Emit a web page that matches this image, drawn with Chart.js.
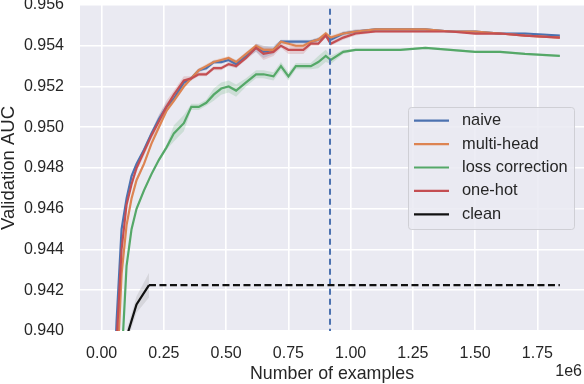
<!DOCTYPE html>
<html>
<head>
<meta charset="utf-8">
<script src="https://cdn.jsdelivr.net/npm/chart.js@4/dist/chart.umd.min.js"></script>
<style>
  html, body { margin: 0; padding: 0; background: #ffffff; }
  #wrap { width: 584px; height: 384px; }
</style>
</head>
<body>
<div id="wrap"><canvas id="c" width="584" height="384"></canvas></div>
<script>
// x positions in units of 1e6 examples
const xs = [0.0, 0.04, 0.06, 0.08, 0.10, 0.12, 0.14, 0.17, 0.20, 0.23, 0.26, 0.29, 0.33, 0.36, 0.39, 0.42, 0.45, 0.48, 0.51, 0.54, 0.58, 0.62, 0.65, 0.69, 0.72, 0.75, 0.78, 0.81, 0.84, 0.87, 0.90, 0.92, 0.97, 1.02, 1.1, 1.2, 1.3, 1.4, 1.5, 1.6, 1.7, 1.84];

const naive = [0.915, 0.9345, 0.9405, 0.9450, 0.9465, 0.9476, 0.9482, 0.9489, 0.9497, 0.9504, 0.9510, 0.9514, 0.9522, 0.9524, 0.9528, 0.9529, 0.9532, 0.9532, 0.9533, 0.9531, 0.9535, 0.9539, 0.9537, 0.9538, 0.9542, 0.9542, 0.9542, 0.9542, 0.9542, 0.9543, 0.9545, 0.9543, 0.9546, 0.9547, 0.9548, 0.9548, 0.9548, 0.9547, 0.9547, 0.9546, 0.9546, 0.9545];
const multiHead = [0.905, 0.930, 0.9375, 0.9428, 0.9452, 0.9465, 0.9474, 0.9482, 0.9492, 0.9500, 0.9508, 0.9513, 0.9520, 0.9524, 0.9528, 0.9530, 0.9532, 0.9533, 0.9534, 0.9532, 0.9536, 0.9540, 0.9538, 0.9538, 0.9542, 0.9541, 0.9540, 0.9540, 0.9542, 0.9543, 0.9546, 0.9544, 0.9546, 0.9547, 0.9548, 0.9548, 0.9548, 0.9547, 0.9547, 0.9546, 0.9545, 0.9544];
const lossCorrection = [0.900, 0.926, 0.9335, 0.9385, 0.9432, 0.9450, 0.9460, 0.9469, 0.9477, 0.9484, 0.9490, 0.9497, 0.9502, 0.9510, 0.9510, 0.9512, 0.9516, 0.9519, 0.9520, 0.9518, 0.9522, 0.9526, 0.9526, 0.9525, 0.9530, 0.9525, 0.9530, 0.9530, 0.9530, 0.9532, 0.9535, 0.9533, 0.9537, 0.9538, 0.9538, 0.9538, 0.9539, 0.9538, 0.9537, 0.9537, 0.9536, 0.9535];
const oneHot = [0.912, 0.933, 0.9395, 0.9440, 0.9462, 0.9472, 0.9480, 0.9488, 0.9496, 0.9503, 0.9510, 0.9516, 0.9523, 0.9524, 0.9526, 0.9526, 0.9529, 0.9529, 0.9531, 0.9530, 0.9534, 0.9539, 0.9536, 0.9537, 0.9540, 0.9538, 0.9538, 0.9538, 0.9541, 0.9541, 0.9545, 0.9541, 0.9544, 0.9546, 0.9547, 0.9547, 0.9547, 0.9547, 0.9546, 0.9546, 0.9545, 0.9544];

// spread (half-width of shaded band) per point
const naiveSd = [0.0002, 0.0002, 0.0002, 0.0001, 0.0001, 0.0001, 0.0001, 0.0001, 0.0001, 0.0002, 0.0002, 0.0001, 0.0001, 0.0001, 0.0001, 0.0001, 0.0001, 0.0001, 0.0001, 0.0002, 0.0001, 0.0002, 0.0003, 0.0002, 0.0001, 0.0001, 0.0001, 0.0001, 0.0001, 0.0001, 0.0001, 0.0001, 0.0001, 0.0001, 0.00005, 0.00005, 0.00005, 0.00005, 0.00005, 0.00005, 0.00005, 0.00005];
const multiHeadSd = [0.0002, 0.0002, 0.0002, 0.0001, 0.0001, 0.0001, 0.0001, 0.0001, 0.0001, 0.0001, 0.0001, 0.0001, 0.0001, 0.0001, 0.0001, 0.0001, 0.0001, 0.0001, 0.0001, 0.0001, 0.0001, 0.0001, 0.0002, 0.0001, 0.0001, 0.0001, 0.0001, 0.0001, 0.0001, 0.0001, 0.0001, 0.0001, 0.0001, 0.0001, 0.00005, 0.00005, 0.00005, 0.00005, 0.00005, 0.00005, 0.00005, 0.00005];
const lossCorrectionSd = [0.0002, 0.0002, 0.0002, 0.0001, 0.0001, 0.0001, 0.0001, 0.0001, 0.0001, 0.0001, 0.0001, 0.0004, 0.0004, 0.00015, 0.00015, 0.00015, 0.0003, 0.0003, 0.0003, 0.0003, 0.0002, 0.0002, 0.0002, 0.0002, 0.0002, 0.0002, 0.00015, 0.00015, 0.00015, 0.0003, 0.0003, 0.0002, 0.0001, 0.00005, 0.00005, 0.00005, 0.00005, 0.00005, 0.00005, 0.00005, 0.00005, 0.00005];
const oneHotSd = [0.0002, 0.0002, 0.0002, 0.0001, 0.0001, 0.0001, 0.0002, 0.0002, 0.0002, 0.0003, 0.0003, 0.0002, 0.0002, 0.0001, 0.0001, 0.0001, 0.0001, 0.0001, 0.0001, 0.0001, 0.0001, 0.0002, 0.0003, 0.0002, 0.0001, 0.0002, 0.0002, 0.0002, 0.0001, 0.0001, 0.0001, 0.0001, 0.0001, 0.0001, 0.00005, 0.00005, 0.00005, 0.00005, 0.00005, 0.00005, 0.00005, 0.00005];

const cleanX = [0.08, 0.14, 0.19];
const clean = [0.9389, 0.9413, 0.94225];
const cleanSd = [0.0003, 0.0004, 0.0006];
const cleanLevelX = [0.19, 1.84];
const cleanLevel = [0.94225, 0.94225];

const markerX = [0.917];

const labels = ['naive', 'multi-head', 'loss correction', 'one-hot', 'clean'];
const colors = ['#4C72B0', '#DD8452', '#55A868', '#C44E52', '#111111'];

const xMin = -0.087, xMax = 1.937;
const yMin = 0.940, yMax = 0.956;
const xTickStep = 0.25, yTickStep = 0.002;

function pts(xv, yv) { return xv.map((x, i) => ({ x: x, y: yv[i] })); }
function hexA(hex, a) {
  const n = parseInt(hex.slice(1), 16);
  return `rgba(${(n >> 16) & 255},${(n >> 8) & 255},${n & 255},${a})`;
}

const series = [naive, multiHead, lossCorrection, oneHot];
const sds = [naiveSd, multiHeadSd, lossCorrectionSd, oneHotSd];

const datasets = [];
series.forEach((s, k) => {
  datasets.push({
    label: labels[k], data: pts(xs, s), borderColor: colors[k], backgroundColor: colors[k],
    borderWidth: 2.2, pointRadius: 0, tension: 0, order: 5 - k, fill: false
  });
});
datasets.push({
  label: labels[4], data: pts(cleanX, clean), borderColor: colors[4], backgroundColor: colors[4],
  borderWidth: 2.2, pointRadius: 0, tension: 0, order: 1, fill: false
});
datasets.push({
  label: '_clean_level', data: pts(cleanLevelX, cleanLevel), borderColor: colors[4],
  borderWidth: 2.2, borderDash: [7, 3.5], pointRadius: 0, order: 1, fill: false
});
datasets.push({
  label: '_marker', data: [{ x: markerX[0], y: 0.930 }, { x: markerX[0], y: 0.960 }], borderColor: colors[0],
  borderWidth: 2, borderDash: [6, 4], pointRadius: 0, order: 1, fill: false
});
// bands
const bandSets = series.map((s, k) => [xs, s, sds[k], colors[k]]);
bandSets.push([cleanX, clean, cleanSd, '#888888']);
bandSets.forEach(([xv, s, sd, col]) => {
  const idx = datasets.length;
  datasets.push({
    label: '_band_hi', data: pts(xv, s.map((v, i) => v + sd[i])), borderWidth: 0, pointRadius: 0,
    backgroundColor: hexA(col, 0.2), fill: idx + 1, order: 20
  });
  datasets.push({
    label: '_band_lo', data: pts(xv, s.map((v, i) => v - sd[i])), borderWidth: 0, pointRadius: 0,
    backgroundColor: 'rgba(0,0,0,0)', fill: false, order: 20
  });
});

const FONT = 'Liberation Sans, Arial, sans-serif';
const TXT = '#262626';

const decor = {
  id: 'decor',
  beforeDraw(chart) {
    const { ctx, chartArea: a } = chart;
    ctx.save();
    ctx.fillStyle = '#EAEAF2';
    ctx.fillRect(a.left, a.top, a.right - a.left, a.bottom - a.top);
    ctx.restore();
  },
  afterDraw(chart) {
    const { ctx } = chart;
    ctx.save();
    // legend box
    const bx = 408.5, by = 107.5, bw = 166, bh = 122, r = 3;
    ctx.beginPath();
    ctx.moveTo(bx + r, by);
    ctx.arcTo(bx + bw, by, bx + bw, by + bh, r);
    ctx.arcTo(bx + bw, by + bh, bx, by + bh, r);
    ctx.arcTo(bx, by + bh, bx, by, r);
    ctx.arcTo(bx, by, bx + bw, by, r);
    ctx.closePath();
    ctx.fillStyle = 'rgba(234,234,242,0.85)';
    ctx.fill();
    ctx.strokeStyle = 'rgba(204,204,210,0.9)';
    ctx.lineWidth = 1;
    ctx.stroke();
    ctx.font = '16.4px ' + FONT;
    ctx.textBaseline = 'middle';
    ctx.textAlign = 'left';
    for (let i = 0; i < labels.length; i++) {
      const y = 120.7 + i * 23.4;
      ctx.strokeStyle = colors[i];
      ctx.lineWidth = 2.2;
      ctx.setLineDash([]);
      ctx.beginPath();
      ctx.moveTo(414, y);
      ctx.lineTo(449, y);
      ctx.stroke();
      ctx.fillStyle = TXT;
      ctx.fillText(labels[i], 462, y);
    }
    // offset label
    ctx.font = '16px ' + FONT;
    ctx.textAlign = 'right';
    ctx.fillText('1e6', 582, 372);
    ctx.restore();
  }
};

new Chart(document.getElementById('c'), {
  type: 'line',
  data: { datasets: datasets },
  plugins: [decor],
  options: {
    responsive: false,
    animation: false,
    layout: { padding: { top: 5, right: 0, left: 0, bottom: 0 } },
    plugins: { legend: { display: false }, tooltip: { enabled: false } },
    elements: { line: { borderCapStyle: 'butt' } },
    scales: {
      x: {
        type: 'linear', min: xMin, max: xMax,
        border: { display: false },
        grid: { color: '#ffffff', lineWidth: 1.6, drawTicks: false },
        ticks: {
          stepSize: xTickStep, includeBounds: false, padding: 13, color: TXT,
          font: { family: FONT, size: 16 }, maxRotation: 0,
          callback: v => v.toFixed(2)
        },
        title: { display: true, text: 'Number of examples', color: TXT, font: { family: FONT, size: 17.8 }, padding: { top: 0, bottom: -0.5 } },
        afterFit: s => { s.height = 53; s.paddingLeft = 0; s.paddingRight = 0; }
      },
      y: {
        type: 'linear', min: yMin, max: yMax,
        border: { display: false },
        grid: { color: '#ffffff', lineWidth: 1.6, drawTicks: false },
        ticks: {
          stepSize: yTickStep, includeBounds: false, padding: 16, color: TXT,
          font: { family: FONT, size: 16 },
          callback: v => v.toFixed(3)
        },
        title: { display: true, text: 'Validation AUC', color: TXT, font: { family: FONT, size: 18.5 }, padding: { top: -2.5, bottom: 0 } },
        afterFit: s => { s.width = 80; s.paddingTop = 0; s.paddingBottom = 0; }
      }
    }
  }
});
</script>
</body>
</html>
